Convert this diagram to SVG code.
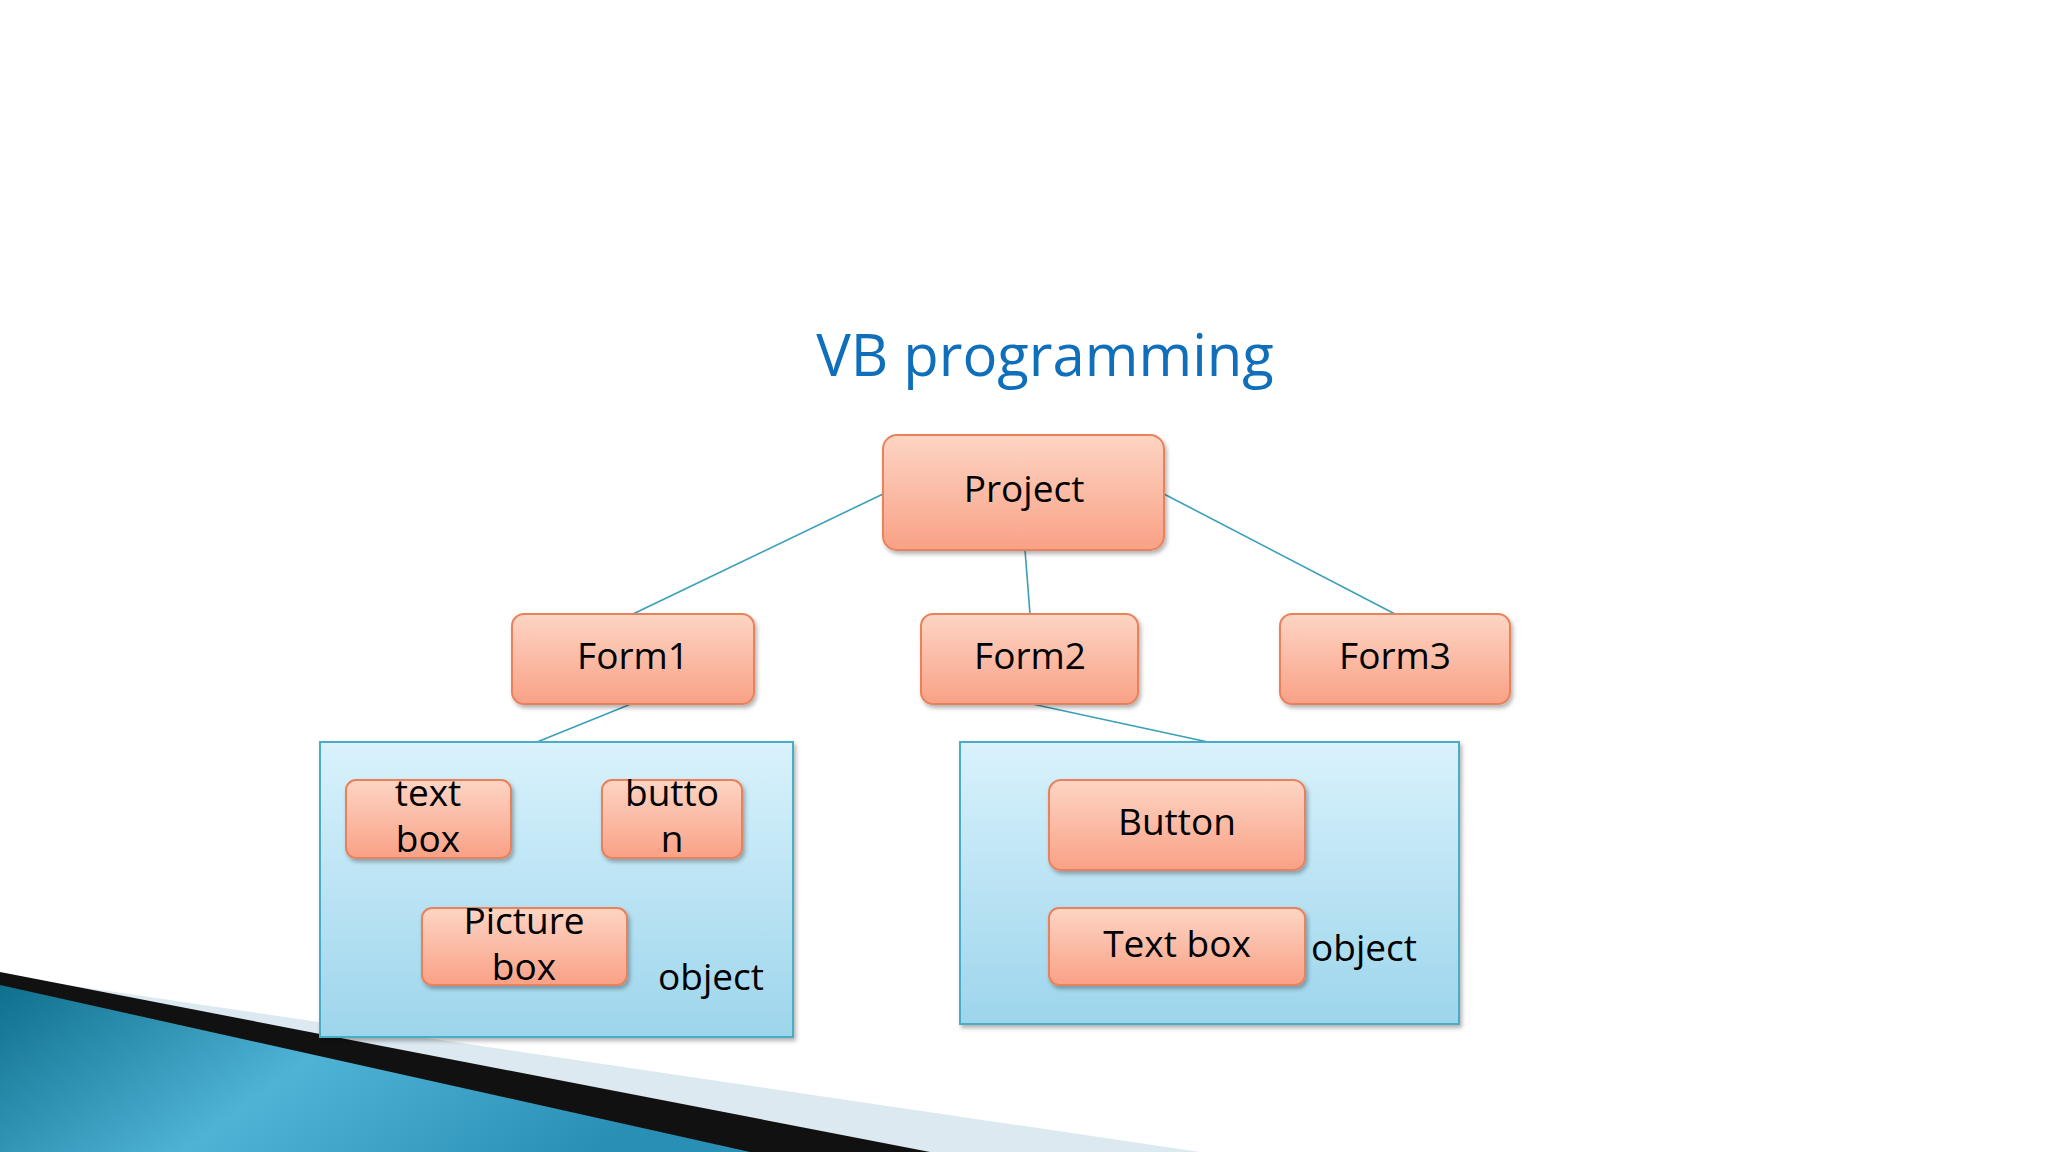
<svg xmlns="http://www.w3.org/2000/svg" width="2048" height="1152" viewBox="0 0 2048 1152">
<defs>
<linearGradient id="og" x1="0" y1="0" x2="0" y2="1"><stop offset="0" stop-color="#fdd5c4"/><stop offset="1" stop-color="#f9a186"/></linearGradient>
<linearGradient id="bg" x1="0" y1="0" x2="0" y2="1"><stop offset="0" stop-color="#d9f2fc"/><stop offset="1" stop-color="#9dd5ec"/></linearGradient>
<linearGradient id="tg" x1="0" y1="0" x2="1" y2="0.3"><stop offset="0" stop-color="#0f6f8c"/><stop offset="0.5" stop-color="#4fb3d6"/><stop offset="1" stop-color="#2a8fb5"/></linearGradient>
<filter id="sh"><feDropShadow dx="2" dy="3" stdDeviation="2" flood-opacity="0.3"/></filter>
<style>
.n{fill:url(#og);stroke:#e8825c;stroke-width:2;filter:url(#sh)}
.c{fill:url(#bg);stroke:#4bacc6;stroke-width:2;filter:url(#sh)}
.t{font-family:"Open Sans","DejaVu Sans",sans-serif;font-size:37px;fill:#000;text-anchor:middle}
.l{stroke:#3a9fb8;stroke-width:1.6}
</style>
</defs>
<rect width="2048" height="1152" fill="#fff"/>
<polygon points="0,975 1200,1152 0,1152" fill="#dce9f0"/>
<polygon points="0,972 930,1152 0,1152" fill="#111"/>
<polygon points="0,985 750,1152 0,1152" fill="url(#tg)"/>
<text x="1045" y="376" font-family="'Open Sans','DejaVu Sans',sans-serif" font-size="58" fill="#0f6fba" text-anchor="middle">VB programming</text>
<g id="connectors">
<line class="l" x1="883" y1="494" x2="633" y2="614"/>
<line class="l" x1="1164" y1="494" x2="1395" y2="614"/>
<line class="l" x1="1025" y1="550" x2="1030" y2="614"/>
<line class="l" x1="631" y1="704" x2="537" y2="742"/>
<line class="l" x1="1032" y1="704" x2="1208" y2="742"/>
</g>
<g id="project"><rect class="n" x="883" y="435" width="281" height="115" rx="14"/><text class="t" x="1024" y="502">Project</text></g>
<g id="form1"><rect class="n" x="512" y="614" width="242" height="90" rx="12"/><text class="t" x="633" y="669">Form1</text></g>
<g id="form2"><rect class="n" x="921" y="614" width="217" height="90" rx="12"/><text class="t" x="1030" y="669">Form2</text></g>
<g id="form3"><rect class="n" x="1280" y="614" width="230" height="90" rx="12"/><text class="t" x="1395" y="669">Form3</text></g>
<g id="group1"><rect class="c" x="320" y="742" width="473" height="295"/><text class="t" x="711" y="990">object</text></g>
<g id="group2"><rect class="c" x="960" y="742" width="499" height="282"/><text class="t" x="1364" y="961">object</text></g>
<g id="textbox1"><rect class="n" x="346" y="780" width="165" height="78" rx="10"/><text class="t" x="428" y="806">text</text><text class="t" x="428" y="852">box</text></g>
<g id="button1"><rect class="n" x="602" y="780" width="140" height="78" rx="10"/><text class="t" x="672" y="806">butto</text><text class="t" x="672" y="852">n</text></g>
<g id="picturebox"><rect class="n" x="422" y="908" width="205" height="77" rx="10"/><text class="t" x="524" y="934">Picture</text><text class="t" x="524" y="980">box</text></g>
<g id="button2"><rect class="n" x="1049" y="780" width="256" height="90" rx="12"/><text class="t" x="1177" y="835">Button</text></g>
<g id="textbox2"><rect class="n" x="1049" y="908" width="256" height="77" rx="10"/><text class="t" x="1177" y="957">Text box</text></g>
</svg>
